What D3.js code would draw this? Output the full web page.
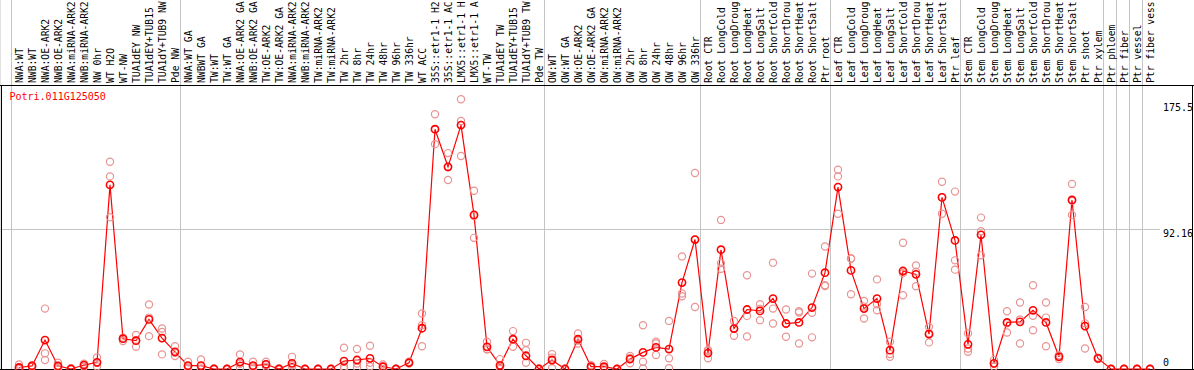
<!DOCTYPE html>
<html>
<head>
<meta charset="utf-8">
<script src="https://cdn.jsdelivr.net/npm/d3@7"></script>
<style>
  body { margin: 0; background: #fff; }
  svg { display: block; }
</style>
</head>
<body>
<svg id="chart" width="1194" height="370"></svg>
<script>
const geneId = 'Potri.011G125050'

// sample names as far as the header shows them
const samples = [
  'NWA:WT', 'NWB:WT', 'NWA:OE-ARK2', 'NWB:OE-ARK2', 'NWA:miRNA-ARK2', 'NWB:miRNA-ARK2',
  'NW 0hr', 'WT H2O', 'WT-NW', 'TUA1dEY NW', 'TUA1dEY+TUB15', 'TUA1dY+TUB9 NW', 'Pde NW',
  'NWA:WT GA', 'NWBWT GA', 'TW:WT', 'TW:WT GA', 'NWA:OE-ARK2 GA', 'NWB:OE-ARK2 GA',
  'TW:OE-ARK2', 'TW:OE-ARK2 GA', 'NWA:miRNA-ARK2', 'NWB:miRNA-ARK2', 'TW:miRNA-ARK2',
  'TW:miRNA-ARK2', 'TW 2hr', 'TW 8hr', 'TW 24hr', 'TW 48hr', 'TW 96hr', 'TW 336hr',
  'WT ACC', '35S::etr1-1 H2', '35S::etr1-1 AC', 'LMX5::etr1-1 H', 'LMX5::etr1-1 A',
  'WT-TW', 'TUA1dEY TW', 'TUA1dEY+TUB15', 'TUA1dY+TUB9 TW', 'Pde TW',
  'OW:WT', 'OW:WT GA', 'OW:OE-ARK2', 'OW:OE-ARK2 GA', 'OW:miRNA-ARK2', 'OW:miRNA-ARK2',
  'OW 2hr', 'OW 8hr', 'OW 24hr', 'OW 48hr', 'OW 96hr', 'OW 336hr',
  'Root CTR', 'Root LongCold', 'Root LongDroug', 'Root LongHeat', 'Root LongSalt',
  'Root ShortCold', 'Root ShortDrou', 'Root ShortHeat', 'Root ShortSalt', 'Ptr root',
  'Leaf CTR', 'Leaf LongCold', 'Leaf LongDroug', 'Leaf LongHeat', 'Leaf LongSalt',
  'Leaf ShortCold', 'Leaf ShortDrou', 'Leaf ShortHeat', 'Leaf ShortSalt', 'Ptr leaf',
  'Stem CTR', 'Stem LongCold', 'Stem LongDroug', 'Stem LongHeat', 'Stem LongSalt',
  'Stem ShortCold', 'Stem ShortDrou', 'Stem ShortHeat', 'Stem ShortSalt', 'Ptr shoot',
  'Ptr xylem', 'Ptr phloem', 'Ptr fiber', 'Ptr vessel', 'Ptr fiber vess'
]

const means = [
  1, 2, 19, 2, 0, 2.6, 4.4, 121, 19.9, 18.6, 32.6, 20.3, 11.3,
  2.2, 2.2, 0, 0, 4.5, 2.2, 3.1, 0, 3.7, 0, 0, 0, 5.2, 5.9, 7, 1.5, 0, 4.1,
  26.8, 157.6, 132.9, 160.3, 101.3, 14.6, 2.4, 19.6, 8.7, 0,
  5.9, 0, 19.6, 1.5, 1.5, 0, 6.5, 10.9, 14.2, 13.1, 56.8, 85.1,
  10.5, 78.4, 26.6, 39.1, 38.2, 46.3, 29.9, 30.6, 40.4, 63.3,
  119.6, 64.8, 39.7, 46.3, 12.4, 64.4, 62.2, 22.9, 112.8, 84.5,
  16.2, 88.2, 3.7, 30.6, 31, 38.6, 30.6, 8, 111.1, 28.2, 7,
  0, 0, 0, 0
]

const replicates = [
  [3, 0.5, 0], [2.5, 2, 1.5], [39.7, 10.3, 5.9], [4.1, 1.5, 0.5], [0.5, 0, 0],
  [3.5, 2.5, 1.5], [7.6, 4, 1.6], [136.2, 126.6, 99.8], [20.5, 19.9, 18.4],
  [22.3, 14.6, 18.9], [42.4, 33.8, 21.6], [26.6, 24.4, 9.6], [15, 8.5, 10.7],
  [4.8, 1.5, 0.3], [6.3, 0.3, 0], [0.3, 0, 0], [0.2, 0, 0], [9.6, 3.4, 0.8],
  [4.8, 1.5, 0.3], [4.8, 3, 1.5], [0.3, 0, 0], [8, 2.5, 0.6], [0, 0, 0], [0, 0, 0],
  [0, 0, 0], [14, 1.5, 0.1], [13.1, 3.6, 1], [15.3, 4.1, 1.6], [3, 1.5, 0],
  [0.2, 0, 0], [4.8, 3.6, 3.9], [36.5, 28.8, 15], [167.4, 157.6, 147.8],
  [141.9, 124.2, 132.6], [177.3, 163, 140], [117.2, 100.5, 86.2], [17.9, 12.9, 13],
  [6.5, 1, 0], [24.9, 14.6, 19.3], [17.2, 12.4, 4.1], [0.3, 0, 0],
  [9.8, 7.5, 0.5], [0, 0, 0], [23.4, 16.8, 18.7], [2.5, 1, 1], [3.3, 1, 0.3],
  [0, 0, 0], [8.5, 3.7, 7.3], [28.8, 4.8, 0.4], [17.9, 9.2, 16.8], [31.6, 7, 0.5],
  [74, 49.6, 47.8], [128.8, 40.8, 85],
  [12, 7, 12.5], [98, 69.6, 65.9], [31.6, 21.8, 26.5], [61.6, 34.9, 21.4],
  [42.6, 32.1, 39.5], [69.9, 39.7, 29.9], [39.1, 21.2, 29.5], [37.1, 16.8, 38],
  [62.7, 36.9, 20.8], [80.5, 55, 54.5],
  [131, 126.6, 102], [72.5, 49.1, 72.8], [44.7, 33.2, 41], [58.9, 42.6, 38.6],
  [17.9, 9.8, 8], [83, 63, 48.5], [68.1, 54.4, 64], [27.7, 17.5, 23.5],
  [123.1, 102, 113], [116.6, 71.4, 65.3],
  [23.4, 13.5, 11.3], [99.5, 74.7, 90.5], [6, 1.5, 3.5], [38, 24, 30],
  [43.7, 16.8, 32.5], [55, 35, 25.5], [43.7, 33.8, 15], [9, 6.5, 8.5],
  [121.6, 101.3, 110.5], [40.8, 30, 13.5], [7.5, 6.5, 7],
  [0, 0, 0], [0, 0, 0], [0, 0, 0], [0, 0, 0]
]

// index where each group of samples ends (separator lines)
const groupEnds = [13, 41, 53, 63, 73, 84, 85, 86, 87, 88]

const yTicks = [0, 92.16, 175.5]

const width = 1194
const height = 370
const headerBottom = 85
const plotBottom = 369
const font = '"DejaVu Sans Mono", "Liberation Mono", monospace'

const x = d3
  .scaleBand()
  .domain(d3.range(samples.length))
  .range([11, 1155])

const y = d3
  .scaleLinear()
  .domain([0, 175.5])
  .range([plotBottom, 102])

const px = (i) => x(i) + 8

const svg = d3.select('#chart')

svg.append('rect')
  .attr('width', width)
  .attr('height', height)
  .attr('fill', '#fff')

// horizontal grid line (middle ticks only)
svg.append('g')
  .attr('id', 'grid')
  .selectAll('line')
  .data(yTicks.slice(1, -1))
  .join('line')
  .attr('x1', 0)
  .attr('x2', 1160)
  .attr('y1', (d) => Math.round(y(d)) + 0.5)
  .attr('y2', (d) => Math.round(y(d)) + 0.5)
  .attr('stroke', '#c4c4c4')

// group separators, running through header and plot
svg.append('g')
  .attr('id', 'separators')
  .selectAll('line')
  .data([0, ...groupEnds])
  .join('line')
  .attr('x1', (d) => x(d) + 0.5)
  .attr('x2', (d) => x(d) + 0.5)
  .attr('y1', 0)
  .attr('y2', plotBottom)
  .attr('stroke', '#c4c4c4')

// sample labels
svg.append('g')
  .attr('id', 'labels')
  .selectAll('text')
  .data(samples)
  .join('text')
  .attr('transform', (d, i) => `translate(${px(i) + 4.3},83) rotate(-90)`)
  .attr('font-family', font)
  .attr('font-size', 9.7)
  .attr('fill', '#000')
  .text((d) => d)

// header / plot frame
const frame = svg.append('g').attr('id', 'frame').attr('stroke', '#000')
frame.append('line')
  .attr('x1', 0).attr('x2', width)
  .attr('y1', headerBottom + 0.5).attr('y2', headerBottom + 0.5)
frame.append('line')
  .attr('x1', 1.5).attr('x2', 1.5)
  .attr('y1', headerBottom).attr('y2', plotBottom)
frame.append('line')
  .attr('x1', width - 1.5).attr('x2', width - 1.5)
  .attr('y1', headerBottom).attr('y2', plotBottom)
frame.append('line')
  .attr('x1', 0).attr('x2', width)
  .attr('y1', plotBottom + 0.5).attr('y2', plotBottom + 0.5)

// gene id
svg.append('text')
  .attr('x', 9.5)
  .attr('y', 100)
  .attr('font-family', font)
  .attr('font-size', 10)
  .attr('fill', '#ff0000')
  .text(geneId)

// y tick labels on the right
svg.append('g')
  .attr('id', 'yaxis')
  .selectAll('text')
  .data(yTicks)
  .join('text')
  .attr('x', 1163)
  .attr('y', (d) => Math.min(y(d) + 8.5, 366))
  .attr('font-family', font)
  .attr('font-size', 10)
  .attr('fill', '#000')
  .text((d) => d)

const plot = svg.append('g').attr('id', 'plot')

// mean line
plot.append('path')
  .datum(means)
  .attr('fill', 'none')
  .attr('stroke', '#ff0000')
  .attr('stroke-width', 1.2)
  .attr('d', d3.line().x((d, i) => px(i)).y((d) => y(d)))

// replicates
plot.append('g')
  .attr('id', 'replicates')
  .selectAll('g')
  .data(replicates)
  .join('g')
  .selectAll('circle')
  .data((d, i) => d.map((v) => ({ i, v })))
  .join('circle')
  .attr('cx', (d) => px(d.i))
  .attr('cy', (d) => y(d.v))
  .attr('r', 3.6)
  .attr('fill', 'none')
  .attr('stroke', '#e89494')
  .attr('stroke-width', 1.2)

// means
plot.append('g')
  .attr('id', 'means')
  .selectAll('circle')
  .data(means)
  .join('circle')
  .attr('cx', (d, i) => px(i))
  .attr('cy', (d) => y(d))
  .attr('r', 3.6)
  .attr('fill', 'none')
  .attr('stroke', '#ff0000')
  .attr('stroke-width', 1.6)
</script>
</body>
</html>
